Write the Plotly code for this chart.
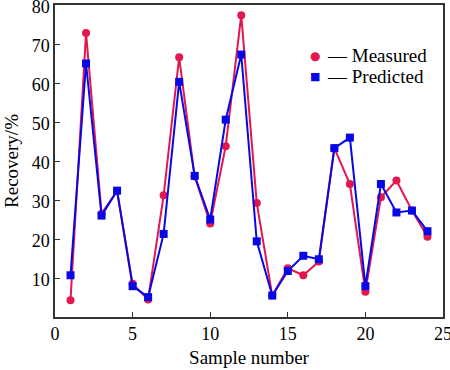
import plotly.graph_objects as go

samples = list(range(1, 25))
measured = [4.3, 72.8, 26.5, 32.3, 8.5, 4.5, 31.2, 66.6, 36.0, 24.0, 43.8, 77.4,
            29.2, 5.5, 12.5, 10.7, 14.2, 43.3, 34.1, 6.5, 30.7, 35.0, 27.3, 20.6]
predicted = [10.7, 65.0, 26.0, 32.4, 7.9, 5.1, 21.3, 60.3, 36.2, 25.0, 50.6, 67.3,
             19.4, 5.5, 11.8, 15.7, 14.8, 43.3, 46.0, 7.9, 34.1, 26.8, 27.3, 22.0]
x_ticks = [0, 5, 10, 15, 20, 25]
y_ticks = [10, 20, 30, 40, 50, 60, 70, 80]
series_names = ["Measured", "Predicted"]

RED = "#e3174d"
BLUE = "#0808e6"
FONT = "Liberation Serif"
TICKFONT = dict(family=FONT, size=18, color="black")

fig = go.Figure()
fig.add_trace(go.Scatter(x=samples, y=measured, mode="lines+markers", name=series_names[0],
                         line=dict(color=RED, width=2),
                         marker=dict(symbol="circle", size=8, color=RED)))
fig.add_trace(go.Scatter(x=samples, y=predicted, mode="lines+markers", name=series_names[1],
                         line=dict(color=BLUE, width=2),
                         marker=dict(symbol="square", size=8, color=BLUE)))

fig.update_layout(
    width=450, height=370,
    margin=dict(l=55, r=7, t=5, b=53),
    paper_bgcolor="white", plot_bgcolor="white",
    showlegend=False,
    font=dict(family=FONT, size=18, color="black"),
    xaxis=dict(range=[0, 25], tickmode="array", tickvals=x_ticks,
               ticktext=[str(v) for v in x_ticks], tickfont=TICKFONT,
               ticklabeloverflow="allow",
               ticks="inside", ticklen=5, tickcolor="#333", automargin=False,
               showgrid=False, zeroline=False, showline=True, linecolor="#333",
               linewidth=1.5, mirror=True,
               title=dict(text="Sample number", standoff=7,
                          font=dict(family=FONT, size=19))),
    yaxis=dict(range=[0, 80], tickmode="array", tickvals=y_ticks,
               ticktext=[str(v) for v in y_ticks], tickfont=TICKFONT,
               ticklabeloverflow="allow", ticklabelshift=2,
               ticks="inside", ticklen=5, tickcolor="#333", automargin=False,
               showgrid=False, zeroline=False, showline=True, linecolor="#333",
               linewidth=1.5, mirror=True,
               title=dict(text="Recovery/%", standoff=8,
                          font=dict(family=FONT, size=19))),
)

# custom legend: coloured marker, then a short dash and the series name
legend_rows = [(series_names[0], RED, "●", 12, 0.837),
               (series_names[1], BLUE, "■", 11, 0.772)]
for name, color, glyph, gsize, ypos in legend_rows:
    fig.add_annotation(xref="paper", yref="paper", x=0.670, y=ypos, xanchor="center",
                       yanchor="middle", showarrow=False, text=glyph,
                       font=dict(family="DejaVu Sans", size=gsize, color=color))
    fig.add_annotation(xref="paper", yref="paper", x=0.695, y=ypos, xanchor="left",
                       yanchor="middle", showarrow=False, text=f"— {name}",
                       font=dict(family=FONT, size=19, color="black"))

fig.write_html("out.html", config={"displayModeBar": False},
               post_script="document.body.style.margin='0';document.body.style.overflow='hidden';")
